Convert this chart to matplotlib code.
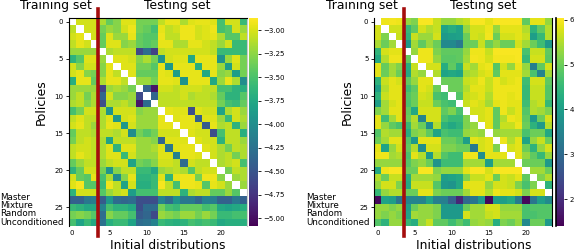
import numpy as np
from matplotlib import pyplot as plt

N = np.nan
W, H = 574, 252

row_names = ["Master", "Mixture", "Random", "Unconditioned"]
xticks = [0, 5, 10, 15, 20]
yticks = [0, 5, 10, 15, 20, 25]
left_cbar_ticks = [-3.0, -3.25, -3.5, -3.75, -4.0, -4.25, -4.5, -4.75, -5.0]
right_cbar_ticks = [2, 3, 4, 5, 6]

left_values = [
    [N,-3.02,-3.02,-3.02,-3.14,-3.39,-3.27,-2.98,-2.98,-3.33,-3.33,-3.33,-3.08,-2.95,-2.95,-3.14,-2.98,-2.95,-2.95,-2.98,-3.52,-3.02,-3.02,-3.58],
    [-3.08,N,-3.02,-3.02,-3.33,-3.2,-3.27,-3.02,-2.93,-3.33,-3.39,-3.52,-2.95,-3.08,-3.02,-2.93,-2.93,-3.02,-2.98,-2.93,-3.52,-3.45,-3.02,-3.2],
    [-3.02,-2.95,N,-3.02,-3.39,-2.98,-3.2,-3.2,-2.95,-3.39,-3.45,-3.45,-2.93,-3.08,-3.08,-2.93,-2.93,-3.02,-2.98,-2.95,-3.14,-3.45,-3.45,-3.08],
    [-3.08,-2.95,-3.02,N,-3.39,-2.98,-2.98,-3.27,-3.2,-3.39,-3.45,-3.39,-2.95,-2.95,-3.14,-3.14,-2.95,-2.95,-3.02,-3.08,-3.2,-3.02,-3.58,-3.58],
    [-3.2,-3.2,-3.2,-3.2,N,-3.14,-3.08,-3.08,-3.08,-4.6,-4.3,-4.65,-3.08,-3.02,-3.02,-3.02,-3.02,-3.02,-3.02,-3.08,-3.58,-3.58,-3.58,-3.58],
    [-3.65,-3.45,-2.98,-2.98,-3.2,N,-2.98,-2.98,-3.02,-3.27,-3.14,-3.33,-3.95,-3.02,-2.98,-2.98,-3.75,-2.95,-2.95,-2.95,-3.95,-3.2,-2.98,-3.33],
    [-3.02,-3.27,-3.02,-3.02,-3.27,-2.95,N,-2.98,-2.98,-3.33,-3.33,-3.45,-2.95,-3.9,-2.95,-2.95,-2.95,-3.7,-2.95,-2.95,-3.2,-3.85,-3.02,-3.33],
    [-3.02,-2.95,-3.27,-3.33,-3.27,-2.95,-3.08,N,-2.98,-3.39,-3.39,-3.39,-2.95,-2.98,-3.85,-2.95,-2.95,-2.95,-3.75,-2.95,-3.27,-3.2,-3.85,-3.33],
    [-3.7,-2.95,-2.95,-3.39,-3.14,-2.95,-2.95,-3.08,N,-3.2,-3.2,-3.33,-2.95,-2.95,-2.98,-3.95,-2.95,-2.95,-2.95,-3.75,-3.2,-2.95,-3.14,-4.0],
    [-3.2,-3.2,-3.2,-3.2,-4.65,-3.2,-3.14,-3.2,-3.33,N,-4.4,-4.95,-3.02,-3.02,-3.08,-3.02,-3.02,-3.02,-3.08,-3.08,-3.52,-3.52,-3.65,-3.7],
    [-3.2,-3.08,-3.33,-3.14,-4.35,-3.02,-3.27,-3.27,-3.2,-4.6,N,-4.35,-3.08,-3.08,-3.08,-3.02,-3.14,-3.08,-3.08,-3.14,-3.39,-3.65,-3.65,-3.45],
    [-3.14,-3.08,-3.27,-3.14,-4.55,-3.14,-3.14,-3.08,-3.2,-4.95,-4.3,N,-3.08,-3.08,-3.08,-3.08,-3.08,-3.08,-3.08,-3.08,-3.33,-3.52,-3.58,-3.39],
    [-3.52,-3.33,-3.02,-3.02,-3.14,-3.95,-3.02,-3.02,-3.02,-3.27,-3.2,-3.2,N,-2.95,-2.98,-2.98,-4.55,-2.98,-3.02,-3.02,-3.8,-3.14,-3.02,-3.2],
    [-3.08,-2.98,-3.08,-3.08,-3.14,-2.98,-3.9,-3.02,-2.98,-3.2,-3.2,-3.2,-2.95,N,-2.98,-2.95,-2.95,-4.4,-2.98,-2.98,-3.2,-3.58,-3.02,-3.14],
    [-3.02,-2.95,-3.08,-3.2,-3.14,-2.95,-2.98,-3.9,-3.02,-3.2,-3.2,-3.2,-2.95,-2.95,N,-2.95,-2.95,-2.98,-4.45,-2.95,-3.14,-3.08,-3.65,-3.2],
    [-3.39,-3.08,-3.08,-3.14,-3.08,-3.08,-3.14,-3.02,-4.0,-3.33,-3.45,-3.33,-3.02,-3.02,-3.02,N,-2.98,-3.02,-3.02,-4.55,-3.52,-3.08,-3.08,-3.7],
    [-3.33,-3.08,-3.02,-3.08,-3.14,-3.8,-3.08,-3.08,-3.08,-3.2,-3.2,-3.27,-4.35,-2.98,-2.98,-2.98,N,-2.98,-3.02,-3.02,-3.65,-3.08,-3.08,-3.2],
    [-3.08,-3.02,-3.02,-3.08,-3.14,-2.98,-3.65,-2.98,-2.98,-3.2,-3.2,-3.14,-2.98,-4.2,-2.98,-2.95,-2.95,N,-2.98,-3.02,-3.14,-3.33,-3.08,-3.14],
    [-3.08,-2.95,-3.02,-3.08,-3.14,-2.98,-2.98,-3.58,-3.02,-3.2,-3.2,-3.2,-2.98,-2.98,-4.1,-2.95,-2.95,-2.98,N,-3.02,-3.14,-3.08,-3.33,-3.14],
    [-3.39,-3.2,-3.08,-3.08,-3.2,-3.08,-3.02,-3.02,-3.8,-3.33,-3.39,-3.27,-3.02,-3.02,-3.08,-4.3,-3.02,-3.08,-3.08,N,-3.14,-3.08,-3.02,-3.52],
    [-3.65,-3.39,-3.02,-3.02,-3.33,-3.95,-3.27,-3.08,-3.08,-3.58,-3.58,-3.75,-3.2,-3.14,-3.08,-3.14,-3.45,-3.08,-3.02,-3.02,N,-3.33,-3.08,-3.14],
    [-3.02,-3.39,-3.45,-2.95,-3.52,-3.14,-4.0,-3.27,-2.95,-3.65,-3.65,-3.58,-2.98,-3.65,-2.95,-2.93,-2.93,-3.33,-2.93,-2.93,-3.27,N,-3.2,-3.14],
    [-2.98,-2.9,-3.45,-3.45,-3.58,-2.93,-3.08,-3.8,-3.02,-3.7,-3.7,-3.58,-2.9,-3.08,-3.52,-2.93,-2.93,-2.95,-3.45,-2.95,-3.02,-3.2,N,-3.2],
    [-3.65,-3.02,-3.02,-3.02,-3.45,-3.2,-3.08,-3.02,-3.85,-3.52,-3.52,-3.52,-3.08,-3.08,-3.08,-3.65,-3.14,-3.08,-3.08,-3.39,-3.39,-3.2,-3.45,N],
    [-4.4,-4.4,-4.2,-4.15,-4.45,-3.9,-4.3,-4.35,-4.3,-4.55,-4.55,-4.55,-4.1,-4.3,-3.95,-4.2,-4.2,-4.35,-4.1,-4.15,-4.4,-4.4,-4.2,-4.4],
    [-3.58,-3.65,-3.75,-3.75,-4.1,-3.52,-3.65,-3.65,-3.75,-4.55,-4.3,-4.3,-3.33,-3.52,-3.58,-3.39,-3.39,-3.39,-3.52,-3.45,-3.75,-3.8,-3.75,-3.7],
    [-3.33,-3.27,-3.33,-3.45,-4.3,-3.27,-3.39,-3.39,-3.52,-4.45,-4.35,-4.6,-3.2,-3.27,-3.33,-3.2,-3.2,-3.33,-3.2,-3.33,-3.58,-3.58,-3.52,-3.52],
    [-3.52,-3.8,-3.58,-3.75,-4.25,-3.7,-3.58,-3.58,-3.8,-4.3,-4.25,-4.1,-3.58,-3.65,-3.7,-3.65,-3.52,-3.58,-3.52,-3.58,-3.75,-3.7,-3.7,-3.7],
]

right_values = [
    [N,5.92,5.95,5.92,5.3,5.15,6.0,6.0,5.65,5.3,5.3,5.5,5.65,6.0,6.0,5.85,6.0,6.0,6.0,6.0,4.9,5.85,5.85,5.3],
    [5.75,N,5.7,5.7,4.5,4.9,5.75,5.5,5.65,4.1,4.3,4.1,5.3,5.75,5.75,5.92,5.3,5.85,5.85,5.85,5.5,4.4,4.9,5.5],
    [5.75,5.15,N,5.65,4.4,5.65,5.35,5.35,5.75,3.9,4.0,4.05,5.0,5.75,5.65,5.95,5.0,5.75,5.75,5.85,5.65,4.0,4.5,5.5],
    [5.45,5.0,5.4,N,3.85,5.4,4.9,5.35,5.0,3.6,3.6,3.3,5.0,5.0,5.65,5.0,5.3,5.0,5.0,5.75,5.4,5.0,4.6,3.9],
    [4.45,5.75,5.85,5.85,N,5.3,5.92,5.92,5.15,4.9,4.9,4.9,5.3,5.92,5.92,5.65,6.0,6.0,6.0,6.0,4.7,5.65,5.65,4.9],
    [4.2,5.5,5.92,5.92,4.95,N,5.92,5.92,5.3,4.85,4.85,4.9,5.4,5.95,5.92,5.75,5.95,5.95,5.95,6.0,4.5,5.75,5.75,4.85],
    [5.85,4.95,5.4,5.15,4.3,5.65,N,5.75,5.75,4.3,4.9,4.4,5.65,5.4,5.85,5.92,4.8,5.75,5.3,5.92,5.3,3.4,4.9,5.75],
    [5.85,5.0,5.4,5.0,4.2,5.5,5.3,N,5.5,4.1,4.2,4.1,5.4,5.5,5.75,5.85,4.9,5.85,5.85,5.85,5.4,4.7,3.5,5.4],
    [4.4,5.65,5.85,5.75,4.9,5.3,5.85,5.85,N,5.0,5.0,5.0,5.65,5.75,5.92,5.65,5.92,5.75,5.85,5.92,4.6,5.75,5.75,4.9],
    [4.0,5.5,5.85,5.85,4.6,4.9,5.85,5.75,5.0,N,5.0,5.0,5.5,5.85,5.85,5.65,5.92,5.92,5.92,5.92,4.5,5.65,5.65,4.8],
    [4.4,5.65,5.85,5.85,4.8,5.0,5.75,5.65,4.7,4.6,N,4.8,5.65,5.75,5.85,5.5,5.92,5.92,5.85,5.92,4.5,5.65,5.65,4.8],
    [4.0,5.4,5.75,5.85,4.7,5.0,5.65,5.65,5.0,4.7,4.6,N,5.65,5.85,5.75,5.4,5.85,5.92,5.85,5.85,4.6,5.5,5.65,4.5],
    [5.15,5.4,5.85,5.85,4.9,4.2,5.75,5.75,5.75,4.9,5.15,4.7,N,5.75,5.75,5.85,4.9,5.92,5.65,5.85,4.8,5.5,5.4,5.15],
    [5.85,4.6,5.4,5.85,5.0,5.5,3.5,5.75,5.75,4.7,4.5,4.5,5.15,N,5.75,5.85,4.9,5.5,5.92,5.85,4.9,3.9,5.0,5.75],
    [5.85,5.3,4.9,4.7,4.5,5.4,5.0,3.7,5.5,4.4,4.2,4.4,5.15,5.3,N,5.85,4.9,5.65,5.65,5.92,5.0,4.4,3.9,5.5],
    [4.8,5.5,5.4,5.4,4.3,5.15,5.3,4.9,4.1,4.7,4.6,4.6,5.3,5.4,5.3,N,5.3,5.4,5.4,5.4,4.7,5.0,5.0,4.2],
    [5.0,5.4,5.85,5.85,4.8,3.9,5.85,5.85,5.85,5.0,5.0,4.8,4.0,5.85,5.75,5.85,N,5.92,5.5,5.85,4.1,5.3,5.65,5.0],
    [5.85,4.1,5.3,5.75,4.9,5.5,3.7,5.75,5.75,5.15,5.15,5.0,5.0,3.3,5.75,5.85,5.15,N,5.75,5.85,5.0,4.4,5.3,5.75],
    [5.92,5.92,5.4,5.5,4.7,5.85,5.5,3.9,5.5,4.8,4.6,4.6,5.92,5.92,3.7,5.85,5.85,5.85,N,5.85,5.3,4.9,4.5,5.3],
    [5.3,5.3,5.3,5.3,4.8,5.15,5.3,5.0,3.8,4.6,4.6,4.6,5.4,5.4,5.4,4.0,5.4,5.4,5.4,N,5.0,5.0,5.0,3.9],
    [4.2,5.92,6.0,6.0,5.0,5.0,6.0,6.0,5.15,5.3,5.3,5.3,5.85,6.0,6.0,5.75,6.0,6.0,6.0,6.0,N,5.4,5.4,5.0],
    [5.5,5.0,5.65,5.65,4.3,5.4,5.4,5.4,5.3,4.0,4.1,4.2,5.15,5.65,5.65,5.85,5.0,5.75,5.65,5.85,4.9,N,5.15,5.5],
    [5.3,5.75,5.75,5.15,4.2,5.65,5.65,5.65,4.8,3.9,3.8,4.2,5.85,5.85,5.85,5.3,5.75,5.75,5.65,5.15,4.7,5.15,N,4.4],
    [4.5,5.3,5.5,5.5,5.0,5.0,5.85,5.85,5.15,5.0,5.0,5.0,5.4,5.85,5.85,5.5,5.92,5.85,5.85,5.75,5.15,5.75,5.75,N],
    [1.5,4.1,4.0,3.2,3.5,3.5,3.5,4.1,3.4,3.4,2.8,1.9,3.0,3.2,3.9,1.5,4.0,4.0,4.2,3.3,1.5,3.2,4.0,3.6],
    [5.3,5.3,5.15,5.3,4.0,5.0,5.3,5.3,5.15,3.9,3.9,3.9,5.0,5.4,5.4,5.75,5.75,5.3,5.3,5.3,4.7,4.8,4.8,4.8],
    [5.3,5.15,5.3,5.15,4.1,5.4,5.3,5.3,5.15,3.9,3.9,3.9,5.75,5.4,5.4,5.65,5.75,5.4,5.4,5.4,4.7,4.7,4.8,4.8],
    [4.8,4.4,5.3,5.3,4.5,4.3,5.3,5.65,4.9,4.9,4.6,4.9,4.6,5.3,5.4,5.3,4.3,5.15,5.0,5.3,3.6,5.0,5.0,3.9],
]


def axes_px(x0, y0, x1, y1):
    return fig.add_axes([x0 / W, 1 - y1 / H, (x1 - x0) / W, (y1 - y0) / H])


def panel(values, x0, x1, cx0, cx1, vmin, vmax, cticks, cfmt, side_color, top_spine):
    ax = axes_px(x0, 18, x1, 226)
    im = ax.imshow(np.array(values), cmap="viridis", vmin=vmin, vmax=vmax,
                   aspect="auto", interpolation="nearest")
    ax.set_xticks(xticks)
    ax.set_yticks(yticks)
    ax.tick_params(labelsize=5, length=2, width=0.6, pad=2)
    ax.tick_params(axis="x", length=0, pad=3)
    ax.spines["bottom"].set_visible(False)
    ax.spines["top"].set_visible(top_spine)
    ax.spines["right"].set_color(side_color)
    ax.axvline(3.5, ymin=-0.048, ymax=1.043, color="#a50d0d", lw=2.6, clip_on=False)

    cax = axes_px(cx0, 18, cx1, 226)
    cb = fig.colorbar(im, cax=cax)
    cb.set_ticks(cticks)
    cb.ax.set_yticklabels([cfmt(t) for t in cticks])
    cb.ax.tick_params(labelsize=5, length=2, width=0.6, pad=2)
    cb.outline.set_visible(False)
    return ax, cax


fig = plt.figure(figsize=(W / 100, H / 100), dpi=100)

panel(left_values, 68.5, 246.5, 249, 258, -5.085, -2.87, left_cbar_ticks,
      lambda t: f"{t:.2f}".replace("-", "\u2212"), "#c8c8c8", True)
_, right_cax = panel(right_values, 374, 552, 556, 564, 1.4, 6.04, right_cbar_ticks,
                     lambda t: str(t), "black", False)
# the right colorbar has a black edge on its left side
right_cax.plot([0, 0], [0, 1], transform=right_cax.transAxes, color="black", lw=1.2, clip_on=False)

# titles and axis names sit off-centre in the original, so place them by hand
for x, txt in [(56, "Training set"), (177, "Testing set"),
               (362, "Training set"), (483, "Testing set"),
               (168, "Initial distributions"), (474, "Initial distributions")]:
    y = 5 if "set" in txt else 245.5
    fig.text(x / W, 1 - y / H, txt, fontsize=8.9, ha="center", va="center")

for x in (41, 347):
    fig.text(x / W, 1 - 102 / H, "Policies", fontsize=8.9, rotation=90, ha="center", va="center")

for x0 in (0, 306):
    for y, name in zip((197.5, 205.5, 214, 222.5), row_names):
        fig.text(x0 / W, 1 - y / H, name, fontsize=6.3, ha="left", va="center")

plt.savefig("out.png", dpi=100)
